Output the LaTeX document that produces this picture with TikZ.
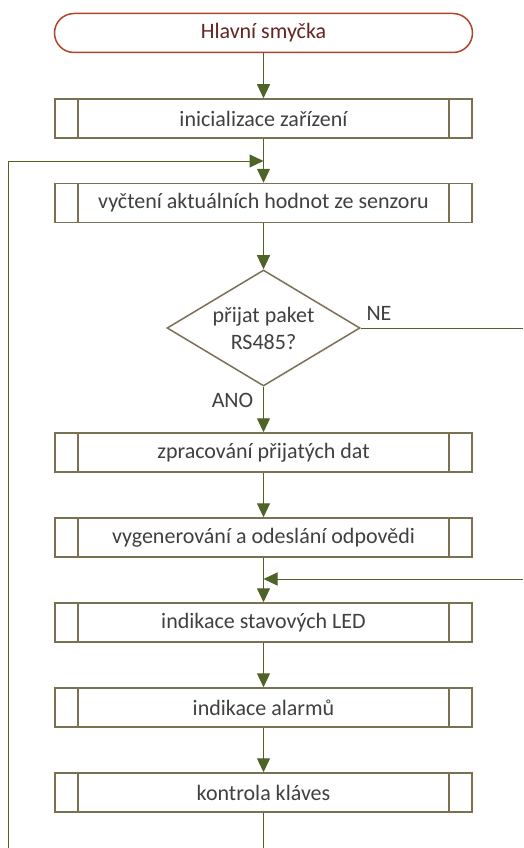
\documentclass[tikz,border=0pt]{standalone}
\usepackage{fontspec}
\setmainfont{Carlito}
\usetikzlibrary{shapes.geometric,arrows.meta}

\definecolor{termline}{HTML}{B0442A}
\definecolor{termtext}{HTML}{632523}
\definecolor{boxline}{HTML}{7A7152}
\definecolor{boxtext}{HTML}{404040}
\definecolor{flow}{HTML}{4F6228}

\tikzset{
  txt/.style={font=\fontsize{22}{27}\selectfont},
  terminal/.style={txt, draw=termline, text=termtext, fill=white, line width=1.5pt,
    rounded corners=19.5pt, minimum width=418pt, minimum height=39pt, inner sep=0pt},
  procbox/.style={txt, draw=boxline, text=boxtext, fill=white, line width=1.5pt,
    minimum width=417pt, minimum height=39pt, inner sep=0pt,
    path picture={
      \draw[boxline, line width=1.5pt]
        ([xshift=23pt]path picture bounding box.north west) --
        ([xshift=23pt]path picture bounding box.south west)
        ([xshift=-23pt]path picture bounding box.north east) --
        ([xshift=-23pt]path picture bounding box.south east);
    }},
  decision/.style={txt, diamond, draw=boxline, text=boxtext, fill=white, line width=1.5pt,
    minimum width=193pt, minimum height=116pt, inner sep=0pt, aspect=1.66, align=center},
  lbl/.style={txt, text=boxtext, inner sep=0pt},
  link/.style={draw=flow, line width=1pt},
  arrow/.style={link, -{Triangle[length=14pt, width=13pt]}, color=flow},
}

\begin{document}
\begin{tikzpicture}[x=1pt, y=1pt]
  \useasboundingbox[fill=white] (0,0) rectangle (523,-848);

  % main loop nodes
  \node[terminal] (start) at (263.5,-33) {Hlavní smyčka};
  \node[procbox]  (init)  at (263.5,-118.5) {inicializace zařízení};
  \node[procbox]  (read)  at (263.5,-203) {vyčtení aktuálních hodnot ze senzoru};
  \node[decision] (pkt)   at (263.5,-328) {přijat paket\\RS485?};
  \node[procbox]  (proc)  at (263.5,-452.5) {zpracování přijatých dat};
  \node[procbox]  (resp)  at (263.5,-537.5) {vygenerování a odeslání odpovědi};
  \node[procbox]  (led)   at (263.5,-622.5) {indikace stavových LED};
  \node[procbox]  (alarm) at (263.5,-707.5) {indikace alarmů};
  \node[procbox]  (keys)  at (263.5,-792.5) {kontrola kláves};

  % branch labels
  \node[lbl] (ne)  at (379,-313) {NE};
  \node[lbl] (ano) at (232.5,-400) {ANO};

  % helper points for the loop and the NE branch
  \coordinate (loopjoin) at (263.5,-161);
  \coordinate (loopbot)  at (8,-848);
  \coordinate (mainbot)  at (263.5,-848);
  \coordinate (neout)    at (523,-328);
  \coordinate (nein)     at (523,-579);
  \coordinate (nejoin)   at (263.5,-579);

  % straight flow
  \draw[arrow] (start) -- (init);
  \draw[arrow] (init)  -- (read);
  \draw[arrow] (read)  -- (pkt);
  \draw[arrow] (pkt)   -- (proc);
  \draw[arrow] (proc)  -- (resp);
  \draw[arrow] (resp)  -- (led);
  \draw[arrow] (led)   -- (alarm);
  \draw[arrow] (alarm) -- (keys);
  \draw[link]  (keys)  -- (mainbot);

  % loop back to the sensor read
  \draw[arrow] (loopbot) |- (loopjoin);

  % NE branch leaving and re-entering
  \draw[link]  (pkt.east) -- (neout);
  \draw[arrow] (nein) -- (nejoin);
\end{tikzpicture}
\end{document}
